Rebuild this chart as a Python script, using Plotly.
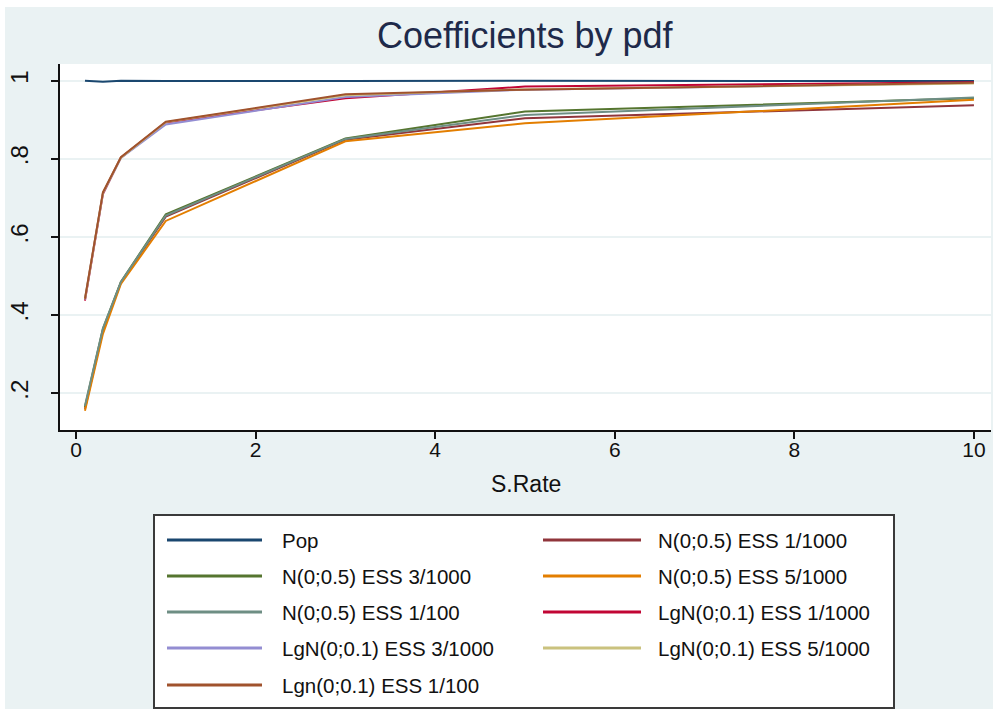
import plotly.graph_objects as go

# Sampling rate (x) and estimated coefficient per pdf / ESS setting
s_rate = [0.1, 0.3, 0.5, 1, 3, 5, 10]

series_names = [
    "Pop",
    "N(0;0.5) ESS 1/1000",
    "N(0;0.5) ESS 3/1000",
    "N(0;0.5) ESS 5/1000",
    "N(0;0.5) ESS 1/100",
    "LgN(0;0.1) ESS 1/1000",
    "LgN(0;0.1) ESS 3/1000",
    "LgN(0;0.1) ESS 5/1000",
    "Lgn(0;0.1) ESS 1/100",
]

pop = [1.000, 0.997, 1.000, 0.999, 0.999, 1.000, 0.999]
n_ess_1_1000 = [0.160, 0.360, 0.483, 0.652, 0.849, 0.904, 0.937]
n_ess_3_1000 = [0.165, 0.365, 0.485, 0.658, 0.852, 0.921, 0.955]
n_ess_5_1000 = [0.155, 0.352, 0.480, 0.641, 0.845, 0.891, 0.951]
n_ess_1_100 = [0.168, 0.366, 0.485, 0.655, 0.851, 0.912, 0.957]
lgn_ess_1_1000 = [0.437, 0.710, 0.803, 0.893, 0.955, 0.985, 0.996]
lgn_ess_3_1000 = [0.440, 0.712, 0.802, 0.888, 0.958, 0.977, 0.994]
lgn_ess_5_1000 = [0.441, 0.713, 0.803, 0.894, 0.963, 0.978, 0.993]
lgn_ess_1_100 = [0.442, 0.714, 0.804, 0.895, 0.965, 0.977, 0.995]

series_values = [
    pop, n_ess_1_1000, n_ess_3_1000, n_ess_5_1000, n_ess_1_100,
    lgn_ess_1_1000, lgn_ess_3_1000, lgn_ess_5_1000, lgn_ess_1_100,
]

series_colors = [
    "#1A476F", "#90353B", "#55752F", "#E37E00", "#6E8E84",
    "#C10534", "#938DD2", "#CAC27E", "#A0522D",
]

x_ticks = [0, 2, 4, 6, 8, 10]
y_ticks = [0.2, 0.4, 0.6, 0.8, 1.0]
y_tick_labels = [".2", ".4", ".6", ".8", "1"]

W, H = 993, 709
M_L, M_R, M_T, M_B = 60, 2, 64, 279
PW, PH = W - M_L - M_R, H - M_T - M_B
BG = "#EAF2F3"
FONT = "Liberation Sans, Arial, sans-serif"


def px_x(x):
    return (x - M_L) / PW


def px_y(y):
    return (H - M_B - y) / PH


fig = go.Figure()
for name, vals, col in zip(series_names, series_values, series_colors):
    fig.add_trace(go.Scatter(
        x=s_rate, y=vals, mode="lines", name=name,
        line=dict(color=col, width=2), showlegend=False,
    ))

shapes = [
    # white edge strips around the graph region
    dict(type="rect", xref="paper", yref="paper", x0=px_x(0), x1=px_x(W),
         y0=px_y(7), y1=px_y(0), fillcolor="white", line_width=0),
    dict(type="rect", xref="paper", yref="paper", x0=px_x(0), x1=px_x(5),
         y0=px_y(H), y1=px_y(0), fillcolor="white", line_width=0),
    # legend frame
    dict(type="rect", xref="paper", yref="paper", x0=px_x(154), x1=px_x(894),
         y0=px_y(708), y1=px_y(515), fillcolor="white",
         line=dict(color="#3a3a3a", width=2)),
]

annotations = [
    dict(text="Coefficients by pdf", xref="paper", yref="paper",
         x=0.5, y=px_y(36), xanchor="center", yanchor="middle",
         showarrow=False, font=dict(family=FONT, size=36, color="#1E2A4A")),
    dict(text="S.Rate", xref="paper", yref="paper",
         x=0.5, y=px_y(484), xanchor="center", yanchor="middle",
         showarrow=False, font=dict(family=FONT, size=23, color="#111111")),
]

# two-column legend, filled row by row
row_y = [540, 576, 612, 648, 685]
col_line = [(167, 262), (543, 641)]
col_text = [280, 656]
for i, (name, col) in enumerate(zip(series_names, series_colors)):
    r, c = divmod(i, 2)
    y = row_y[r]
    shapes.append(dict(type="line", xref="paper", yref="paper",
                       x0=px_x(col_line[c][0]), x1=px_x(col_line[c][1]),
                       y0=px_y(y), y1=px_y(y), line=dict(color=col, width=3)))
    annotations.append(dict(text=name, xref="paper", yref="paper",
                            x=px_x(col_text[c]), y=px_y(y),
                            xanchor="left", yanchor="middle", showarrow=False,
                            font=dict(family=FONT, size=20.5, color="#111111")))

fig.update_layout(
    width=W, height=H,
    margin=dict(l=M_L, r=M_R, t=M_T, b=M_B),
    paper_bgcolor=BG, plot_bgcolor="white",
    shapes=shapes, annotations=annotations,
    xaxis=dict(range=[-0.178, 10.19], tickvals=x_ticks, ticks="outside",
               ticklen=7, tickwidth=1.5, tickcolor="#111111",
               ticklabelstandoff=-7, automargin=False,
               showline=True, linecolor="#111111", linewidth=1.5,
               showgrid=False, zeroline=False,
               tickfont=dict(family=FONT, size=21, color="#111111")),
    yaxis=dict(range=[0.106, 1.0427], tickvals=y_ticks, ticktext=y_tick_labels,
               tickangle=-90, ticks="outside", ticklen=7, tickwidth=1.5,
               ticklabelstandoff=14, automargin=False,
               tickcolor="#111111", showline=True, linecolor="#111111",
               linewidth=1.5, showgrid=True, gridcolor=BG, gridwidth=2,
               zeroline=False,
               tickfont=dict(family=FONT, size=24, color="#111111")),
)

fig.write_html("out.html")
